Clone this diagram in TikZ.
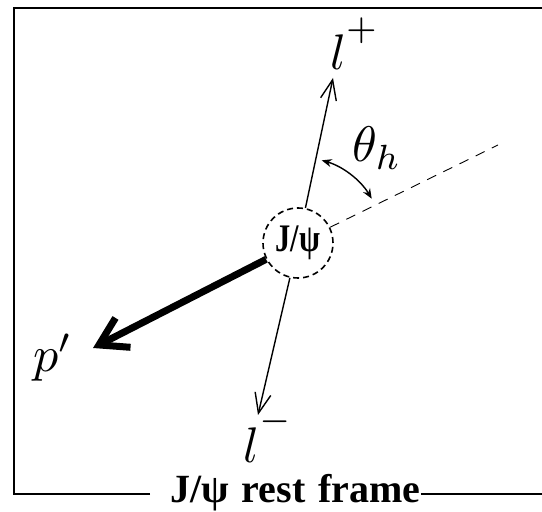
\documentclass[tikz,border=0pt]{standalone}
\usepackage{graphicx}
\usepackage{fontspec}
\newfontfamily\labfont{Liberation Serif}
\usetikzlibrary{arrows.meta}
\newcommand{\hugemath}[1]{\scalebox{5}{$#1$}}
\begin{document}
\begin{tikzpicture}[x=1pt,y=1pt,
  mathlab/.style={inner sep=0pt},
  boldlab/.style={font=\labfont\bfseries\fontsize{40}{48}\selectfont, inner sep=0pt},
  circlab/.style={font=\labfont\bfseries\fontsize{39}{46}\selectfont},
  frameline/.style={line width=1.8pt},
  lepton/.style={line width=1.4pt, -{Straight Barb[length=20pt,width=16pt]}},
  boost/.style={line width=7pt, -{Straight Barb[length=27pt,width=33pt]}},
  axisline/.style={line width=0.9pt, dash pattern=on 10pt off 8pt},
  anglearc/.style={line width=1.4pt, {Stealth[length=10pt,width=8pt]}-{Stealth[length=10pt,width=8pt]}},
  jpsibox/.style={circle, draw, line width=1.6pt, dash pattern=on 6pt off 4pt, minimum size=70pt, inner sep=0pt}
]
\useasboundingbox (0,0) rectangle (542,512);
% frame
\coordinate (ftr) at (542,504);
\coordinate (ftl) at (14,504);
\coordinate (fbl) at (14,18);
\coordinate (fbr) at (542,18);
\node[boldlab, anchor=base west] (frame) at (170,9) {J/ψ\kern3pt\ rest\kern3pt\ frame};
\draw[frameline] ([xshift=-20pt]frame.west |- fbl) -- (fbl) -- (ftl) -- (ftr);
\draw[frameline] (frame.east |- fbr) -- (fbr);
% centre
\node[jpsibox, circlab] (jpsi) at (298,269) {\scalebox{0.78}[1]{J/ψ}};
\coordinate (lp) at (333,434);
\coordinate (lm) at (258,97);
\coordinate (pp) at (93,164);
\coordinate (dend) at (498,367);
\draw[lepton] (jpsi) -- (lp);
\draw[lepton] (jpsi) -- (lm);
\draw[boost] (jpsi) -- (pp);
\draw[axisline] (jpsi) -- (dend);
\draw[anglearc] ([shift={(74:86)}]jpsi.center) arc[start angle=74, end angle=31, radius=86];
% labels
\node[mathlab, anchor=base west] (lplab) at (330,442) {\hugemath{l^{\raisebox{2.4pt}{$\scriptstyle +$}}}};
\node[mathlab, anchor=base west] (lmlab) at (243,49) {\hugemath{l^{\raisebox{2.9pt}{$\scriptstyle -$}}}};
\node[mathlab, anchor=base west] (pplab) at (33,140) {\hugemath{p'}};
\node[mathlab, anchor=base west] (thlab) at (352,350) {\hugemath{\theta_h}};
\end{tikzpicture}
\end{document}
